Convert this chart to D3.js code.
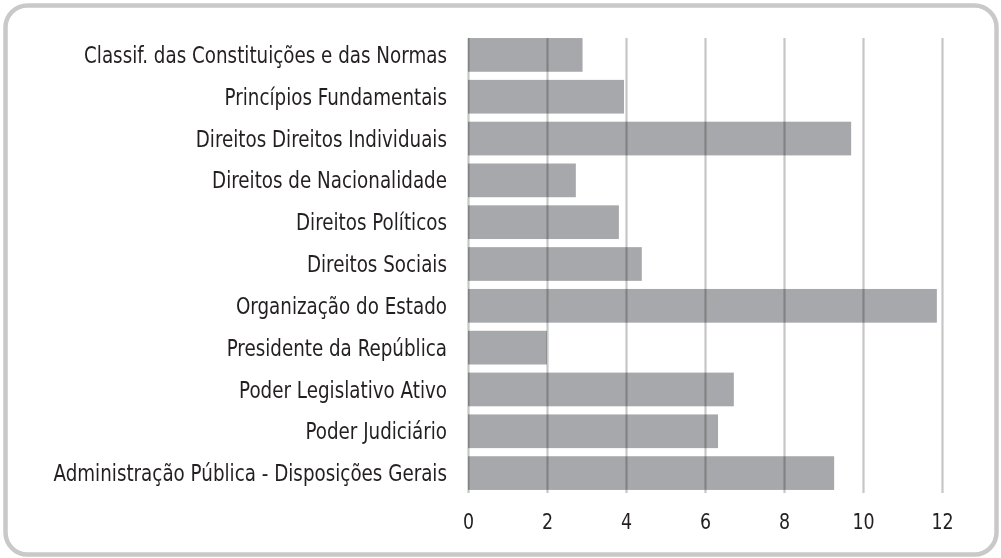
<!DOCTYPE html>
<html>
<head>
<meta charset="utf-8">
<script src="https://cdn.jsdelivr.net/npm/d3@7"></script>
<style>
  body { margin: 0; background: #fff; }
  svg text { font-family: "Liberation Sans Narrow", "DejaVu Sans Condensed", sans-serif; fill: #231f20; }
</style>
</head>
<body>
<div id="chart"></div>
<script>
var width = 1001, height = 558;

// categories, top to bottom
var topics = [
  "Classif. das Constituições e das Normas",
  "Princípios Fundamentais",
  "Direitos Direitos Individuais",
  "Direitos de Nacionalidade",
  "Direitos Políticos",
  "Direitos Sociais",
  "Organização do Estado",
  "Presidente da República",
  "Poder Legislativo Ativo",
  "Poder Judiciário",
  "Administração Pública - Disposições Gerais"
];
var values = [2.9, 3.95, 9.7, 2.73, 3.82, 4.4, 11.87, 2.0, 6.73, 6.33, 9.27];
var tickValues = [0, 2, 4, 6, 8, 10, 12];

var data = topics.map(function(t, i) { return {topic: t, value: values[i]}; });

var svg = d3.select("#chart").append("svg")
  .attr("width", width)
  .attr("height", height);

// rounded frame
svg.append("rect")
  .attr("x", 5.5).attr("y", 5.5)
  .attr("width", 991).attr("height", 549)
  .attr("rx", 22).attr("ry", 22)
  .attr("fill", "#fff")
  .attr("stroke", "#c9c9c9")
  .attr("stroke-width", 4.5);

var x = d3.scaleLinear().domain([0, 12]).range([468, 942]);
var y = d3.scaleBand().domain(topics).range([34, 494])
  .paddingInner(0.194).paddingOuter(0.097);

// bars
svg.append("g").selectAll("rect")
  .data(data)
  .enter().append("rect")
  .attr("x", x(0))
  .attr("y", function(d) { return y(d.topic); })
  .attr("width", function(d) { return x(d.value) - x(0); })
  .attr("height", y.bandwidth())
  .attr("fill", "#a7a8ab");

// vertical grid lines, on top of the bars
var grid = svg.append("g")
  .attr("transform", "translate(0,493)")
  .call(d3.axisBottom(x).tickValues(tickValues).tickSize(-455).tickFormat(""));
grid.select(".domain").remove();
grid.selectAll("line")
  .attr("stroke", "#c6c6c6")
  .attr("stroke-width", 2.2)
  .style("mix-blend-mode", "multiply");

// tick labels (squeezed a bit to look like the condensed face)
var ax = svg.append("g")
  .attr("transform", "translate(0,513)")
  .call(d3.axisBottom(x).tickValues(tickValues).tickSize(0).tickPadding(0));
ax.select(".domain").remove();
ax.selectAll("text")
  .attr("dy", "0.71em")
  .attr("transform", "scale(0.88,1)")
  .attr("x", function(d) { return 0; })
  .style("font-size", "22px");

// category labels
svg.append("g").selectAll("text")
  .data(data)
  .enter().append("text")
  .attr("transform", function(d) {
    return "translate(447," + (y(d.topic) + y.bandwidth() / 2) + ") scale(0.885,1)";
  })
  .attr("dy", "0.35em")
  .attr("text-anchor", "end")
  .style("font-size", "23px")
  .text(function(d) { return d.topic; });
</script>
</body>
</html>
